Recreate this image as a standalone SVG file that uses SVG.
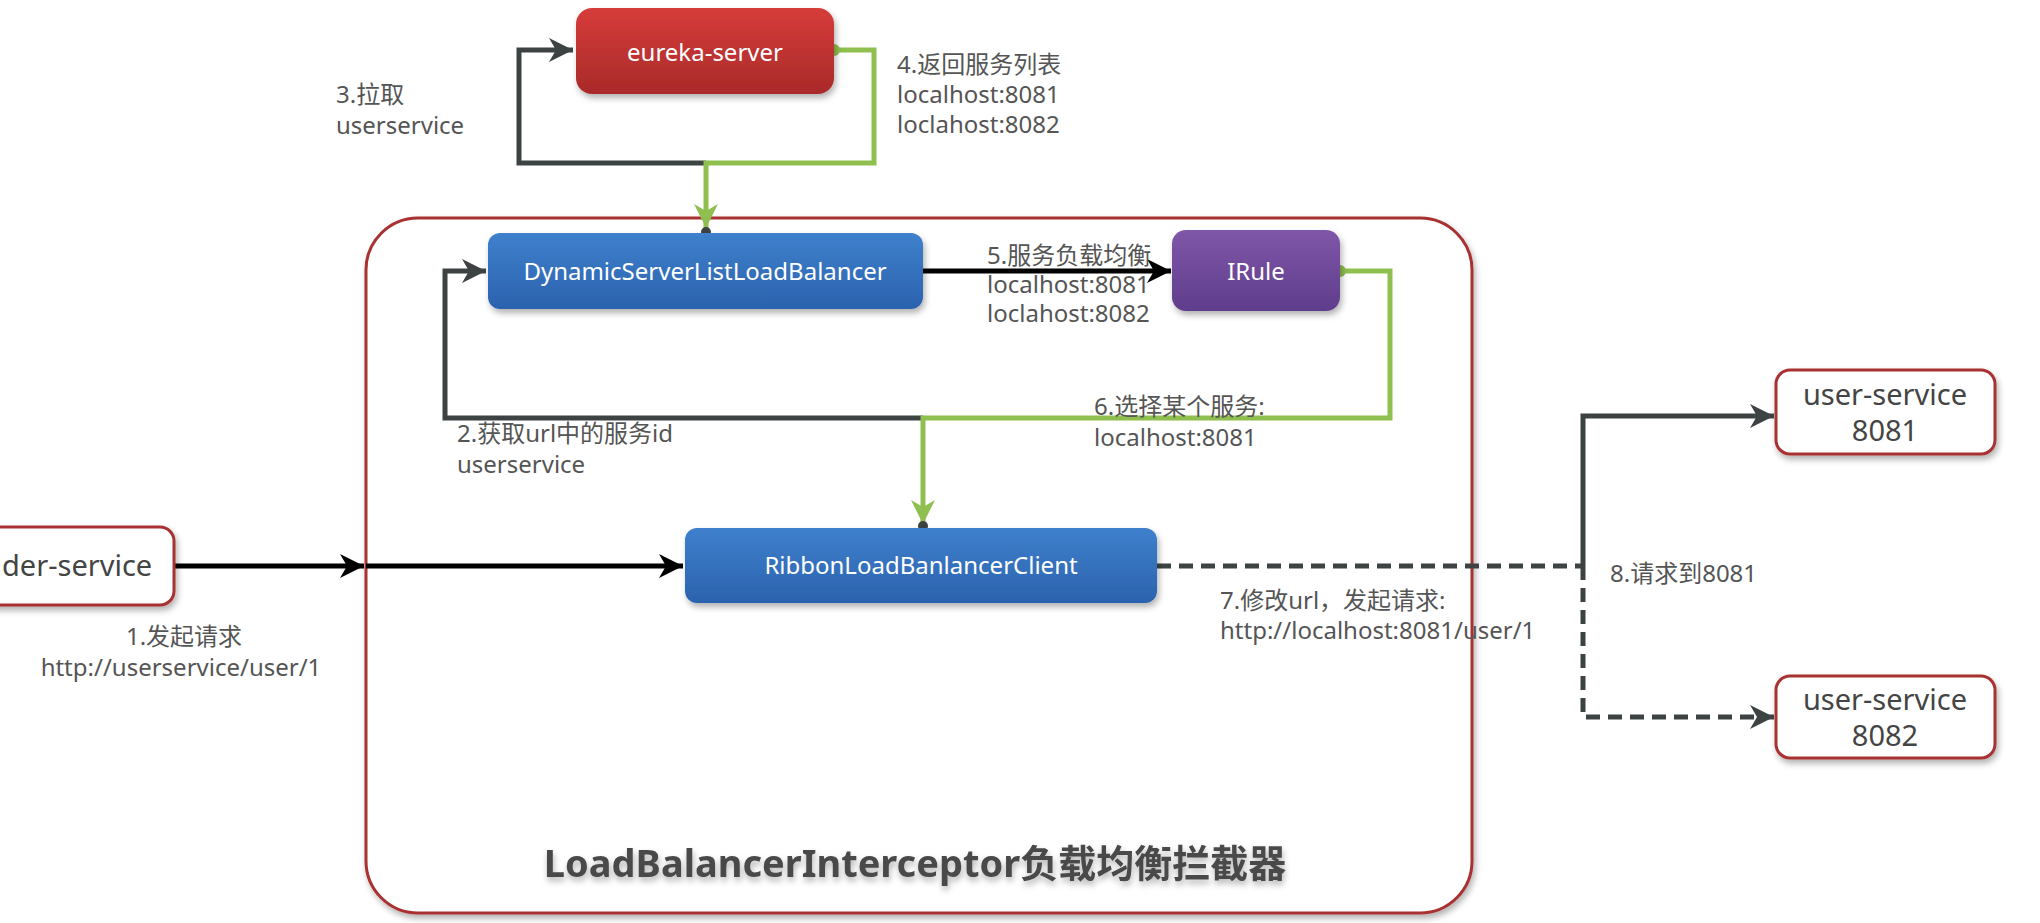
<svg xmlns="http://www.w3.org/2000/svg" width="2040" height="923" viewBox="0 0 2040 923">
<style>
.lbl{font-family:"Noto Sans","Noto Sans CJK SC",sans-serif;font-size:24px;fill:#555;}
.nt{font-family:"Noto Sans","Noto Sans CJK SC",sans-serif;font-size:24px;fill:#fff;text-anchor:middle;}
.wt{font-family:"Noto Sans","Noto Sans CJK SC",sans-serif;font-size:29px;fill:#444;}
.mid{text-anchor:middle;}
.ln{fill:none;stroke-width:5;}
.dk{stroke:#3d4343;}
.bk{stroke:#000;}
.gr{stroke:#8fbf4f;}
.wbox{fill:#fff;stroke:#a83232;stroke-width:3;}
</style>
<defs>
<linearGradient id="gBlue" x1="0" y1="0" x2="0" y2="1"><stop offset="0" stop-color="#3f80cc"/><stop offset="1" stop-color="#2b62ae"/></linearGradient>
<linearGradient id="gRed" x1="0" y1="0" x2="0" y2="1"><stop offset="0" stop-color="#d63c3a"/><stop offset="1" stop-color="#a92a29"/></linearGradient>
<linearGradient id="gPur" x1="0" y1="0" x2="0" y2="1"><stop offset="0" stop-color="#7f56a8"/><stop offset="1" stop-color="#5f3d8c"/></linearGradient>
<filter id="sh" x="-10%" y="-20%" width="120%" height="150%"><feDropShadow dx="2" dy="4" stdDeviation="3" flood-color="#000" flood-opacity="0.3"/></filter>
<filter id="tsh" x="-5%" y="-30%" width="110%" height="170%"><feDropShadow dx="1" dy="4" stdDeviation="3" flood-color="#000" flood-opacity="0.3"/></filter>
<marker id="aDk" markerUnits="userSpaceOnUse" markerWidth="28" markerHeight="28" viewBox="0 0 28 28" refX="26" refY="14" orient="auto"><path d="M2,2 L26,14 L2,26 L9,14 z" fill="#3d4343"/></marker>
<marker id="aBk" markerUnits="userSpaceOnUse" markerWidth="28" markerHeight="28" viewBox="0 0 28 28" refX="26" refY="14" orient="auto"><path d="M2,2 L26,14 L2,26 L9,14 z" fill="#000"/></marker>
<marker id="aGr" markerUnits="userSpaceOnUse" markerWidth="28" markerHeight="28" viewBox="0 0 28 28" refX="26" refY="14" orient="auto"><path d="M2,2 L26,14 L2,26 L9,14 z" fill="#8fbf4f"/></marker>
</defs>
<rect width="2040" height="923" fill="#fff"/>

<g id="container">
<rect x="366" y="218" width="1106" height="695" rx="52" fill="#fff" stroke="#a83232" stroke-width="3" filter="url(#sh)"/>
<text x="915" y="877" font-family="'Noto Sans','Noto Sans CJK SC',sans-serif" font-size="38" font-weight="bold" fill="#4a4a4a" text-anchor="middle" filter="url(#tsh)">LoadBalancerInterceptor负载均衡拦截器</text>
</g>

<g id="connectors">
<path class="ln dk" d="M706,163 H519 V50 H573" marker-end="url(#aDk)"/>
<path class="ln gr" d="M834,50 H874 V163 H706 V228" marker-end="url(#aGr)"/>
<path class="ln bk" d="M923,271 H1171" marker-end="url(#aBk)"/>
<path class="ln dk" d="M923,418 H445 V271 H486" marker-end="url(#aDk)"/>
<path class="ln gr" d="M1340,271 H1390 V418 H923 V524" marker-end="url(#aGr)"/>
<path class="ln bk" d="M174,566 H364" marker-end="url(#aBk)"/>
<path class="ln bk" d="M366,566 H683" marker-end="url(#aBk)"/>
<path class="ln dk" d="M1157,566 H1583" stroke-dasharray="14,8"/>
<path class="ln dk" d="M1583,566 V416 H1774" marker-end="url(#aDk)"/>
<path class="ln dk" d="M1583,566 V717 H1774" stroke-dasharray="14,8" marker-end="url(#aDk)"/>
<circle cx="834" cy="50" r="6" fill="#8fbf4f"/>
<circle cx="1340" cy="271" r="6" fill="#8fbf4f"/>
<circle cx="706" cy="232" r="5" fill="#3d4343"/>
<circle cx="923" cy="526" r="5" fill="#3d4343"/>
</g>

<g id="eureka-server">
<rect x="576" y="8" width="258" height="86" rx="16" fill="url(#gRed)" filter="url(#sh)"/>
<text class="nt" x="705" y="61" font-size="29">eureka-server</text>
</g>

<g id="dynamic-lb">
<rect x="488" y="233" width="435" height="76" rx="12" fill="url(#gBlue)" filter="url(#sh)"/>
<text class="nt" x="705" y="280">DynamicServerListLoadBalancer</text>
</g>

<g id="irule">
<rect x="1172" y="230" width="168" height="81" rx="14" fill="url(#gPur)" filter="url(#sh)"/>
<text class="nt" x="1256" y="280" font-size="25">IRule</text>
</g>

<g id="ribbon">
<rect x="685" y="528" width="472" height="75" rx="12" fill="url(#gBlue)" filter="url(#sh)"/>
<text class="nt" x="921" y="574">RibbonLoadBanlancerClient</text>
</g>

<g id="order-service">
<rect x="-30" y="527" width="204" height="78" rx="14" class="wbox" filter="url(#sh)"/>
<text class="wt" x="2" y="576">der-service</text>
</g>

<g id="user-service-8081">
<rect x="1776" y="370" width="219" height="84" rx="14" class="wbox" filter="url(#sh)"/>
<text class="wt mid" x="1885" y="405">user-service</text>
<text class="wt mid" x="1885" y="441">8081</text>
</g>

<g id="user-service-8082">
<rect x="1776" y="676" width="219" height="82" rx="14" class="wbox" filter="url(#sh)"/>
<text class="wt mid" x="1885" y="710">user-service</text>
<text class="wt mid" x="1885" y="746">8082</text>
</g>

<g id="labels">
<text class="lbl" x="336" y="103">3.拉取</text>
<text class="lbl" x="336" y="134" font-size="25">userservice</text>
<text class="lbl" x="897" y="73">4.返回服务列表</text>
<text class="lbl" x="897" y="103">localhost:8081</text>
<text class="lbl" x="897" y="133">loclahost:8082</text>
<text class="lbl" x="987" y="264">5.服务负载均衡</text>
<text class="lbl" x="987" y="293">localhost:8081</text>
<text class="lbl" x="987" y="322">loclahost:8082</text>
<text class="lbl" x="457" y="442" fill="#333">2.获取url中的服务id</text>
<text class="lbl" x="457" y="473">userservice</text>
<text class="lbl" x="1094" y="415">6.选择某个服务:</text>
<text class="lbl" x="1094" y="446">localhost:8081</text>
<text class="lbl mid" x="184" y="645" font-size="26">1.发起请求</text>
<text class="lbl mid" x="181" y="676" font-size="26">http://userservice/user/1</text>
<text class="lbl" x="1220" y="609" font-size="25">7.修改url，发起请求:</text>
<text class="lbl" x="1220" y="639" font-size="25">http://localhost:8081/user/1</text>
<text class="lbl" x="1610" y="582" font-size="28">8.请求到8081</text>
</g>
</svg>
